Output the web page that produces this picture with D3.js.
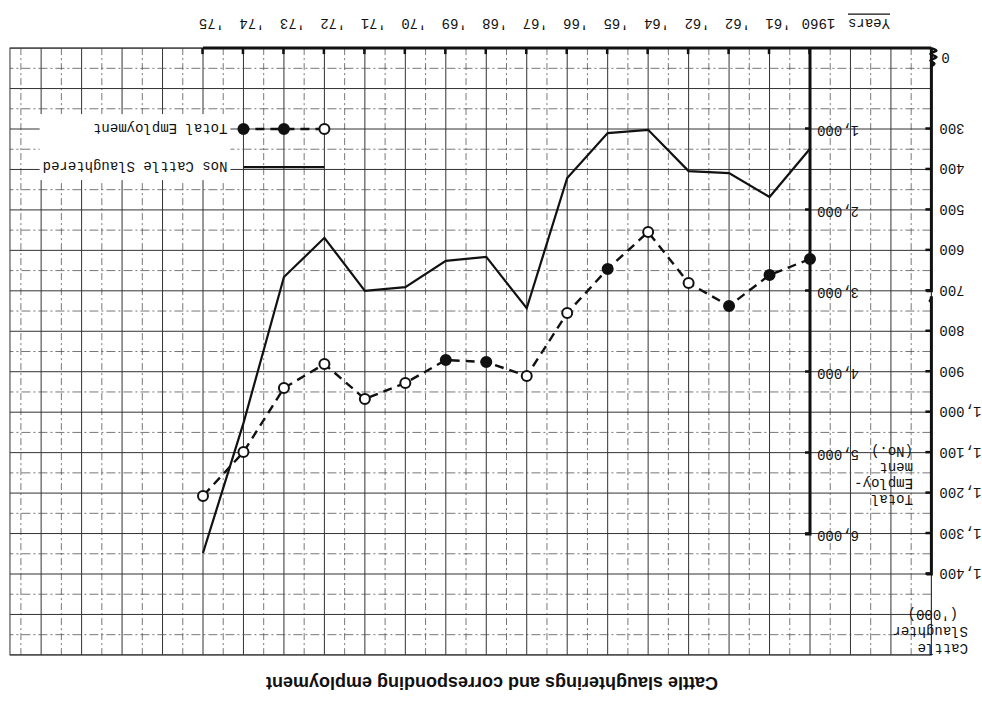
<!DOCTYPE html>
<html>
<head>
<meta charset="utf-8">
<script src="https://cdn.jsdelivr.net/npm/d3@7"></script>
<style>
  body { margin: 0; background: #fff; }
  svg { display: block; }
  .mono { font-family: 'Liberation Mono', 'DejaVu Sans Mono', monospace; font-size: 14px; fill: #111; }
  .title { font-family: 'Liberation Sans', Arial, sans-serif; font-size: 18px; font-weight: bold; fill: #111; }
</style>
</head>
<body>
<svg id="chart" width="982" height="702"></svg>
<script>
// values
const years = [1960, 1961, 1962, 1963, 1964, 1965, 1966, 1967, 1968, 1969, 1970, 1971, 1972, 1973, 1974, 1975]
const yearLabels = ['1960', "'61", "'62", "'62", "'64", "'65", "'66", "'67", "'68", "'69", "'70", "'71", "'72", "'73", "'74", "'75"]
// cattle slaughter ('000 head)
const cattleSlaughtered = [349, 468, 409, 404, 302, 310, 421, 743, 616, 626, 691, 700, 569, 666, 1027, 1348]
// total employment (No.)
const totalEmployment = [2605, 2802, 3185, 2901, 2272, 2728, 3272, 4049, 3877, 3852, 4136, 4333, 3901, 4198, 4988, 5531]
// years plotted with a solid dot instead of an open ring
const solidDotYears = [1960, 1961, 1962, 1965, 1968, 1969]
const slaughterTicks = [300, 400, 500, 600, 700, 800, 900, 1000, 1100, 1200, 1300, 1400]
const employmentTicks = [1000, 2000, 3000, 4000, 5000, 6000]
const slaughterBreakLabel = '0'
const slaughterTitle = ['Cattle', 'Slaughter', "('000)"]
const employmentTitle = ['Total', 'Employ-', 'ment', '(No.)']
const legendNames = ['Total Employment', 'Nos Cattle Slaughtered']
const chartTitle = 'Cattle slaughterings and corresponding employment'

const W = 982, H = 702
const svg = d3.select('#chart')

// the sheet was scanned upside down: draw it upright, then turn the whole thing
const g = svg.append('g').attr('transform', `rotate(180 ${W / 2} ${H / 2})`)

// scales
const x = d3.scaleLinear().domain([1960, 1975]).range([172, 779])
const yS = d3.scaleLinear().domain([300, 1400]).range([573, 128])
const yE = d3.scaleLinear().domain([0, 6000]).range([654, 168])

// graph paper
const gx0 = 1957, gx1 = 1979.77, gy0 = 100, gy1 = 1600
const grid = g.append('g')
grid.selectAll('line.v')
  .data(d3.range(gx0, 1979.6, 0.5))
  .join('line')
  .attr('class', 'v')
  .attr('x1', d => x(d)).attr('x2', d => x(d))
  .attr('y1', yS(gy0)).attr('y2', yS(gy1))
  .attr('stroke', d => d % 1 ? '#555' : '#333')
  .attr('stroke-width', d => d % 1 ? 0.8 : 1)
  .attr('stroke-dasharray', d => d % 1 ? '7,3,2,3' : null)
grid.selectAll('line.h')
  .data(d3.range(gy0, gy1 + 1, 50))
  .join('line')
  .attr('class', 'h')
  .attr('x1', x(gx0)).attr('x2', x(gx1))
  .attr('y1', d => yS(d)).attr('y2', d => yS(d))
  .attr('stroke', d => d % 100 ? '#555' : '#333')
  .attr('stroke-width', d => d % 100 ? 0.8 : 1)
  .attr('stroke-dasharray', d => d % 100 ? '9,3,2,3' : null)
grid.append('rect')
  .attr('x', x(gx0)).attr('y', yS(gy1))
  .attr('width', x(gx1) - x(gx0)).attr('height', yS(gy0) - yS(gy1))
  .attr('fill', 'none').attr('stroke', '#333').attr('stroke-width', 1)

// axes
const styleAxis = (sel) => {
  sel.select('.domain').remove()
  sel.selectAll('.tick line').attr('stroke', '#111').attr('stroke-width', 2.5)
  sel.selectAll('.tick text').attr('class', 'mono').attr('font-size', null).attr('font-family', null)
}

const xAxis = d3.axisBottom(x)
  .tickValues(years)
  .tickFormat((d, i) => yearLabels[i])
  .tickSizeInner(-6).tickSizeOuter(0).tickPadding(19)
g.append('g')
  .attr('transform', `translate(0,${yS(gy0)})`)
  .call(xAxis)
  .call(styleAxis)
  .call(s => s.selectAll('.tick text').attr('dx', -9))

const sAxis = d3.axisLeft(yS)
  .tickValues(slaughterTicks)
  .tickFormat(d3.format(','))
  .tickSizeInner(-6).tickSizeOuter(0).tickPadding(8)
g.append('g')
  .attr('transform', `translate(${x(gx0)},0)`)
  .call(sAxis)
  .call(styleAxis)

const eAxis = d3.axisLeft(yE)
  .tickValues(employmentTicks)
  .tickFormat(d3.format(','))
  .tickSizeInner(-5).tickSizeOuter(0).tickPadding(7)
g.append('g')
  .attr('transform', `translate(${x(1960)},0)`)
  .call(eAxis)
  .call(styleAxis)
  .call(s => s.selectAll('.tick text').attr('dy', '0.2em'))

// heavy axis lines
const ax = g.append('g').attr('fill', 'none').attr('stroke', '#111').attr('stroke-width', 3)
ax.append('line')
  .attr('x1', x(gx0)).attr('x2', x(1975))
  .attr('y1', yS(gy0)).attr('y2', yS(gy0))
ax.append('path')
  .attr('d', `M${x(gx0)},${yS(gy0)}V${yS(700)}h5`)
ax.append('path')
  .attr('d', `M${x(gx0) + 2},${yS(728)}q-2,2 -2,6V${yS(1400)}h5`)
ax.append('path')
  .attr('d', `M${x(1960)},${yS(gy0)}V${yE(6000)}h5`)

// axis break mark near zero
const wave = d3.line().curve(d3.curveCatmullRom)
ax.append('path')
  .attr('d', wave([
    [x(gx0), yS(gy0)], [x(gx0) - 5, yS(106)], [x(gx0) + 1, yS(114)],
    [x(gx0) - 5, yS(122)], [x(gx0) + 1, yS(131)], [x(gx0) - 3, yS(138)], [x(gx0), yS(145)]
  ]))
  .attr('stroke-width', 2.5)
g.append('text')
  .attr('class', 'mono')
  .attr('x', x(gx0) - 10).attr('y', yS(124))
  .attr('dy', '0.35em')
  .attr('text-anchor', 'end')
  .text(slaughterBreakLabel)

// data lines
const sLine = d3.line().x((d, i) => x(years[i])).y(d => yS(d))
g.append('path')
  .datum(cattleSlaughtered)
  .attr('d', sLine)
  .attr('fill', 'none').attr('stroke', '#111').attr('stroke-width', 2.2)

const eLine = d3.line().x((d, i) => x(years[i])).y(d => yE(d))
g.append('path')
  .datum(totalEmployment)
  .attr('d', eLine)
  .attr('fill', 'none').attr('stroke', '#111').attr('stroke-width', 2.4)
  .attr('stroke-dasharray', '9,6')

g.selectAll('circle.emp')
  .data(totalEmployment)
  .join('circle')
  .attr('class', 'emp')
  .attr('cx', (d, i) => x(years[i]))
  .attr('cy', d => yE(d))
  .attr('r', 5)
  .attr('fill', (d, i) => solidDotYears.includes(years[i]) ? '#111' : '#fff')
  .attr('stroke', '#111').attr('stroke-width', 2)

// legend, typed straight onto the grid
const legYears = [1972, 1973, 1974]
const legEmp = 300, legSl = 394
const leg = g.append('g')
const legText = leg.append('g')
legText.selectAll('text')
  .data(legendNames)
  .join('text')
  .attr('class', 'mono')
  .attr('x', x(1974) + 16)
  .attr('y', (d, i) => yS(i ? legSl : legEmp))
  .attr('dy', '0.35em')
  .text(d => d)
const bb = legText.node().getBBox()
legText.insert('rect', 'text')
  .attr('x', bb.x - 3).attr('y', bb.y - 6)
  .attr('width', bb.width + 6).attr('height', bb.height + 12)
  .attr('fill', '#fff')
leg.append('line')
  .attr('x1', x(1972)).attr('x2', x(1974))
  .attr('y1', yS(legEmp)).attr('y2', yS(legEmp))
  .attr('stroke', '#111').attr('stroke-width', 2.4).attr('stroke-dasharray', '9,6')
leg.selectAll('circle')
  .data(legYears)
  .join('circle')
  .attr('cx', d => x(d)).attr('cy', yS(legEmp))
  .attr('r', 5)
  .attr('fill', (d, i) => i ? '#111' : '#fff')
  .attr('stroke', '#111').attr('stroke-width', 2)
leg.append('line')
  .attr('x1', x(1972)).attr('x2', x(1974))
  .attr('y1', yS(legSl)).attr('y2', yS(legSl))
  .attr('stroke', '#111').attr('stroke-width', 2.2)

// axis titles
const sTitle = g.append('text').attr('class', 'mono')
sTitle.selectAll('tspan')
  .data(slaughterTitle)
  .join('tspan')
  .attr('x', (d, i) => i === 2 ? 24 : 14)
  .attr('y', (d, i) => 58 + i * 17)
  .text(d => d)

const eTitle = g.append('text').attr('class', 'mono')
eTitle.selectAll('tspan')
  .data(employmentTitle)
  .join('tspan')
  .attr('x', 69)
  .attr('y', (d, i) => 207 + i * 16)
  .text(d => d)

// 'Years' caption under the year labels
const yearsCap = g.append('text')
  .attr('class', 'mono')
  .attr('x', x(1960) - 38).attr('y', yS(gy0) + 29)
  .attr('text-anchor', 'end')
  .text('Years')
const yb = yearsCap.node().getBBox()
g.append('line')
  .attr('x1', yb.x).attr('x2', yb.x + yb.width)
  .attr('y1', yb.y + yb.height + 1).attr('y2', yb.y + yb.height + 1)
  .attr('stroke', '#111').attr('stroke-width', 1.2)

// title
g.append('text')
  .attr('class', 'title')
  .attr('x', 490).attr('y', 25)
  .attr('text-anchor', 'middle')
  .text(chartTitle)
</script>
</body>
</html>
